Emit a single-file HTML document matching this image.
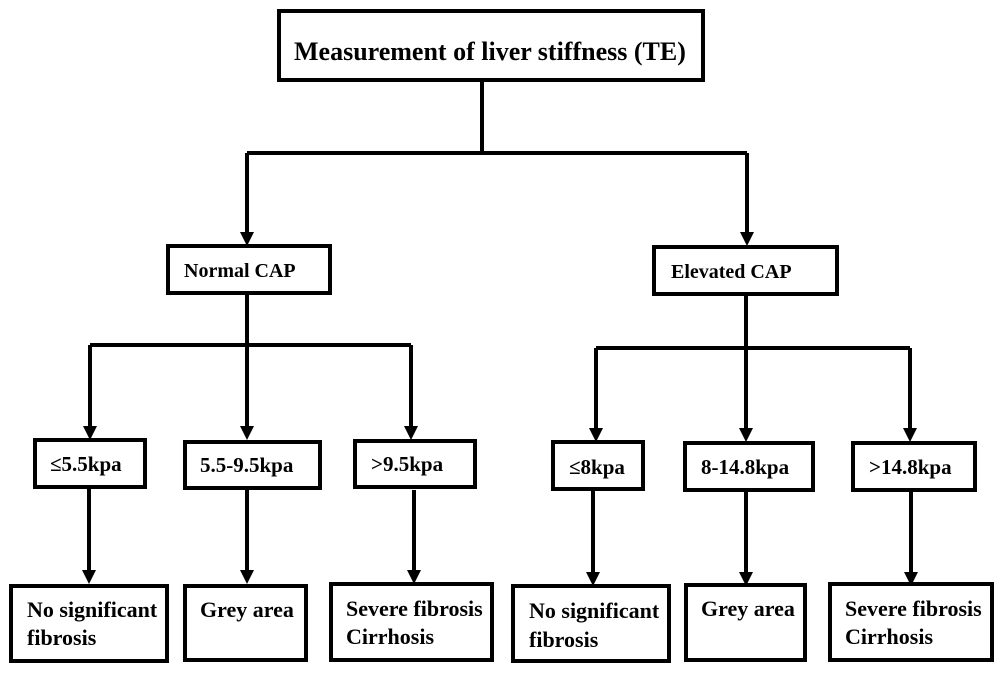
<!DOCTYPE html>
<html><head><meta charset="utf-8"><style>
html,body{margin:0;padding:0;background:#fff;}
svg{display:block;}
text{font-family:"Liberation Serif",serif;font-weight:bold;fill:#000;}
</style></head><body>
<svg width="1003" height="673" viewBox="0 0 1003 673" xmlns="http://www.w3.org/2000/svg">
<g fill="none" stroke="#000" stroke-width="4">
<rect x="279" y="11" width="424" height="69"/>
<rect x="168" y="246" width="162" height="47"/>
<rect x="654" y="247" width="183" height="47"/>
<rect x="35" y="440" width="110" height="47"/>
<rect x="185" y="442" width="135" height="46"/>
<rect x="355" y="441" width="120" height="46"/>
<rect x="553" y="442" width="90" height="47"/>
<rect x="685" y="443" width="128" height="47"/>
<rect x="853" y="443" width="122" height="47"/>
<rect x="11" y="586" width="156" height="75"/>
<rect x="185" y="586" width="121" height="74"/>
<rect x="331" y="584" width="161" height="76"/>
<rect x="513" y="586" width="156" height="75"/>
<rect x="686" y="585" width="119" height="75"/>
<rect x="830" y="584" width="162" height="76"/>
<path d="M482 80V153M247 153H747M247 153V232M747 153V232"/>
<path d="M247 293V345M90 345H411M90 345V426M247 345V426M411 345V426"/>
<path d="M746 294V348M596 348H910M596 348V428M746 348V428M910 348V428"/>
<path d="M89 487V570M247 488V570M414 490V570M593 490V572M746 490V572M911 490V572"/>
</g>
<g fill="#000">
<path d="M240 232H254L247 246Z"/><path d="M740 232H754L747 246Z"/>
<path d="M83 426H97L90 440Z"/><path d="M240 426H254L247 440Z"/><path d="M404 426H418L411 440Z"/>
<path d="M589 428H603L596 442Z"/><path d="M739 428H753L746 442Z"/><path d="M903 428H917L910 442Z"/>
<path d="M82 570H96L89 584Z"/><path d="M240 570H254L247 584Z"/><path d="M407 570H421L414 584Z"/>
<path d="M586 572H600L593 586Z"/><path d="M739 572H753L746 586Z"/><path d="M904 572H918L911 586Z"/>
</g>
<text x="294" y="60" font-size="26">Measurement of liver stiffness (TE)</text>
<text x="184" y="277" font-size="20">Normal CAP</text>
<text x="671" y="278" font-size="20">Elevated CAP</text>
<text x="50" y="471" font-size="21">≤5.5kpa</text>
<text x="200" y="472" font-size="21">5.5-9.5kpa</text>
<text x="371" y="471" font-size="21">&gt;9.5kpa</text>
<text x="569" y="474" font-size="21">≤8kpa</text>
<text x="701" y="474" font-size="21">8-14.8kpa</text>
<text x="869" y="474" font-size="21">&gt;14.8kpa</text>
<g font-size="22">
<text x="27" y="617">No significant</text><text x="27" y="645">fibrosis</text>
<text x="200" y="617">Grey area</text>
<text x="346" y="616">Severe fibrosis</text><text x="346" y="644">Cirrhosis</text>
<text x="529" y="618">No significant</text><text x="529" y="647">fibrosis</text>
<text x="701" y="616">Grey area</text>
<text x="845" y="616">Severe fibrosis</text><text x="845" y="644">Cirrhosis</text>
</g>
</svg>
</body></html>
